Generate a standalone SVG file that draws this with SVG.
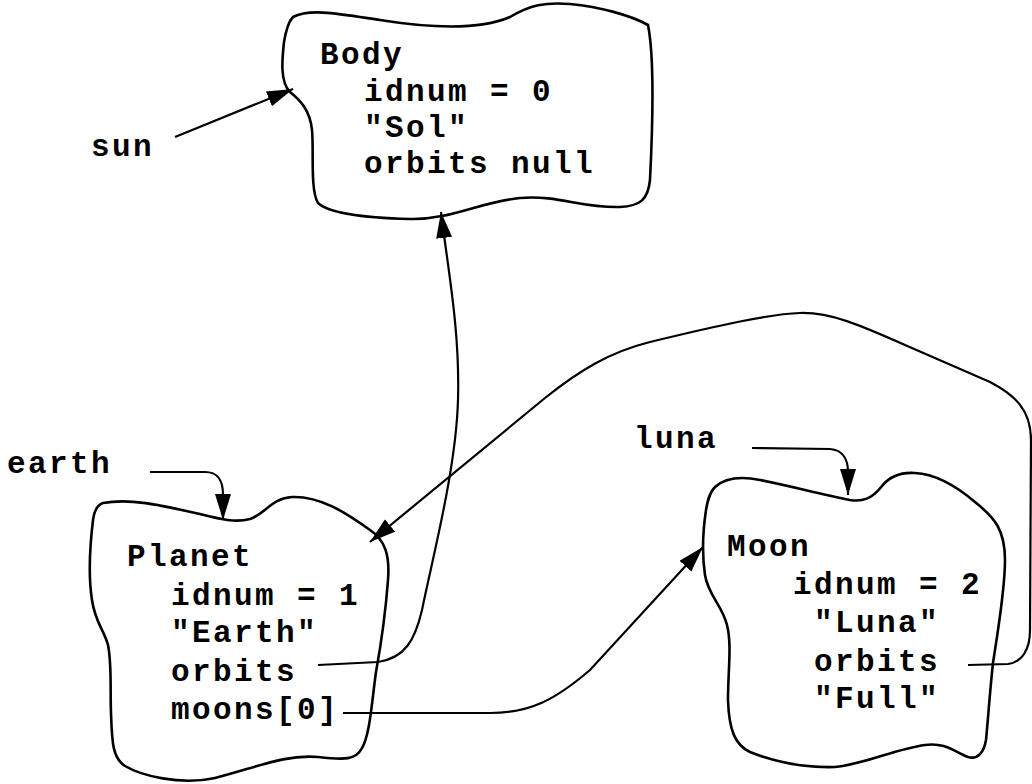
<svg xmlns="http://www.w3.org/2000/svg" width="1032" height="784" viewBox="0 0 1032 784">
<style>
  .blob { fill: none; stroke: #000; stroke-width: 2.6; stroke-linejoin: round; }
  .conn { fill: none; stroke: #000; stroke-width: 2.2; }
  text { font-family: "Liberation Mono", "Courier New", monospace; font-weight: bold; font-size: 31px; letter-spacing: 2.4px; fill: #000; }
</style>
<defs>
  <marker id="ah" markerUnits="userSpaceOnUse" markerWidth="30" markerHeight="20" refX="26" refY="8" orient="auto">
    <path d="M0,0 L26,8 L0,16 Z" fill="#000"/>
  </marker>
</defs>
<rect width="1032" height="784" fill="#fff"/>

<g id="body">
  <path class="blob" d="M293,17 C310,8 340,14 380,20 C430,28 480,30 510,17 C530,5 545,2 570,4 C600,7 630,15 648,25 C655,60 652,140 650,180 C648,200 640,206 620,207 C580,208 560,195 520,198 C480,202 450,220 410,219 C370,218 330,214 318,203 C310,190 314,150 312,130 C310,110 300,100 290,92 C280,82 282,60 284,42 C286,30 288,22 293,17 Z"/>
  <text x="320" y="64">Body</text>
  <text x="364" y="101">idnum = 0</text>
  <text x="364" y="137">"Sol"</text>
  <text x="364" y="173">orbits null</text>
</g>

<g id="planet">
  <path class="blob" d="M103,503 C130,498 160,505 200,514 C220,519 235,523 250,519 C265,514 272,498 292,497 C320,496 345,512 370,530 C385,540 390,555 388,580 C385,620 380,650 376,672 C372,700 370,735 362,748 C356,760 345,760 318,757 C285,754 255,768 215,778 C180,786 140,775 125,766 C112,758 112,740 111,713 C110,690 112,665 108,645 C104,630 95,622 92,600 C88,575 90,545 93,520 C94,512 97,505 103,503 Z"/>
  <text x="127" y="566">Planet</text>
  <text x="171" y="605">idnum = 1</text>
  <text x="171" y="642">"Earth"</text>
  <text x="171" y="681">orbits</text>
  <text x="171" y="719">moons[0]</text>
</g>

<g id="moon">
  <path class="blob" d="M715,487 C725,478 740,476 760,480 C790,486 820,494 850,500 C862,502 872,499 882,486 C890,476 900,472 915,473 C935,474 955,485 975,502 C995,518 1005,530 1005,560 C1005,590 998,630 993,663 C990,690 988,720 986,740 C984,752 978,760 968,757 C955,752 945,742 925,745 C895,749 865,764 835,767 C800,768 770,760 750,752 C735,745 729,730 728,700 C728,670 732,645 727,625 C722,605 708,595 705,575 C702,555 703,530 706,510 C708,498 710,492 715,487 Z"/>
  <text x="727" y="556">Moon</text>
  <text x="793" y="594">idnum = 2</text>
  <text x="814" y="632">"Luna"</text>
  <text x="814" y="671">orbits</text>
  <text x="814" y="708">"Full"</text>
</g>

<g id="labels">
  <text id="sun" x="91" y="156">sun</text>
  <text id="earth" x="7" y="473">earth</text>
  <text id="luna" x="634" y="448">luna</text>
</g>

<g id="connectors">
  <path class="conn" marker-end="url(#ah)" d="M175,137 L293,89"/>
  <path class="conn" marker-end="url(#ah)" d="M150,472 L205,472 C218,472 223,480 223,495 L223,520"/>
  <path class="conn" marker-end="url(#ah)" d="M752,448 L830,449 C843,450 848,460 848,472 L848,495"/>
  <path class="conn" marker-end="url(#ah)" d="M318,665 L378,662 C405,658 415,640 422,610 C432,560 456,470 458,400 C460,330 448,270 441,212"/>
  <path class="conn" marker-end="url(#ah)" d="M343,713 L490,713 C530,713 555,700 590,670 L703,547"/>
  <path class="conn" marker-end="url(#ah)" d="M968,665 L1008,664 C1022,662 1030,650 1030,630 L1031,440 C1031,410 1015,395 990,382 L905,345 C860,325 830,312 800,313 C770,314 720,325 650,342 C610,352 580,370 545,398 L370,542"/>
</g>
</svg>
